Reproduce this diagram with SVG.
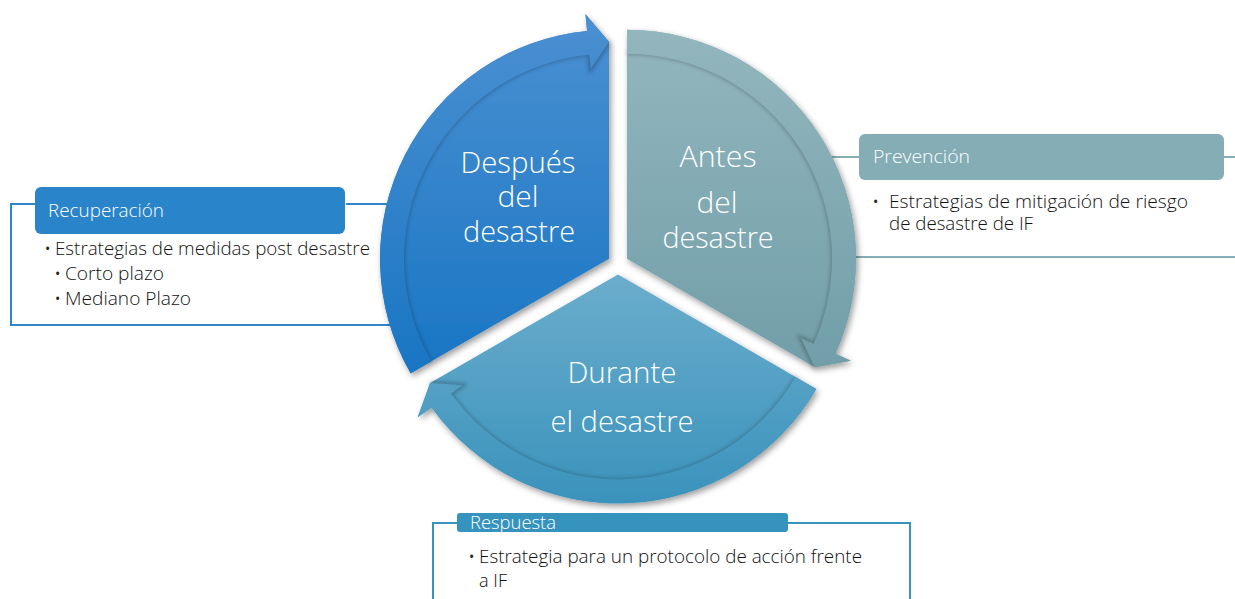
<svg xmlns="http://www.w3.org/2000/svg" width="1235" height="599" viewBox="0 0 1235 599">
<style>
.lbl{font-family:"Open Sans","Liberation Sans",sans-serif;font-weight:300;font-size:30px;fill:#ffffff;text-anchor:middle}
.hdr{font-family:"Open Sans","Liberation Sans",sans-serif;font-weight:300;font-size:18px;fill:#ffffff}
.body{font-family:"Open Sans","Liberation Sans",sans-serif;font-weight:300;font-size:18px;fill:#111111}
.bul{font-family:"Open Sans","Liberation Sans",sans-serif;font-size:14px;fill:#1e1e1e}
.conn{fill:none;stroke-width:2}
.ishadow{fill:none;stroke:#000;stroke-opacity:0.28;stroke-width:4;filter:url(#blur)}
</style>
<defs>
<filter id="drop" x="-20%" y="-20%" width="140%" height="140%">
<feDropShadow dx="2" dy="3" stdDeviation="3" flood-color="#000" flood-opacity="0.4"/>
</filter>
<filter id="blur" x="-10%" y="-10%" width="120%" height="120%">
<feGaussianBlur stdDeviation="2"/>
</filter>
<linearGradient id="gAntes" gradientUnits="userSpaceOnUse" x1="0" y1="30" x2="0" y2="370">
<stop offset="0" stop-color="#93b6bd"/><stop offset="1" stop-color="#719ea9"/>
</linearGradient>
<linearGradient id="gDurante" gradientUnits="userSpaceOnUse" x1="0" y1="275" x2="0" y2="505">
<stop offset="0" stop-color="#6badcc"/><stop offset="1" stop-color="#3a92bc"/>
</linearGradient>
<linearGradient id="gDespues" gradientUnits="userSpaceOnUse" x1="0" y1="15" x2="0" y2="420">
<stop offset="0" stop-color="#4b90d2"/><stop offset="1" stop-color="#1272c1"/>
</linearGradient>
</defs>
<rect width="1235" height="599" fill="#ffffff"/>

<g id="connectors">
<path class="conn" stroke="#2f86c9" d="M395,204 L346,204 M35,204 L11,204 L11,325 L395,325"/>
<path class="conn" stroke="#86aeb7" d="M828,157 L860,157 M1223,157 L1235,157 M850,257 L1235,257"/>
<path class="conn" stroke="#3693bd" d="M458,523 L433,523 L433,599 M787,523 L910,523 L910,599"/>
</g>

<g id="seg-antes">
<path fill="url(#gAntes)" filter="url(#drop)" d="M627,258.8 L627,29.8 A229,229 0 0 1 835.4,353.8 L850.9,360.8 L814.9,367.3 Z"/>
<path class="ishadow" d="M627,52.5 A206.3,206.3 0 0 1 814.7,344.3 L800.8,338 L814.9,367.3"/>
<path fill="url(#gAntes)" d="M627,29.8 A229,229 0 0 1 835.4,353.8 L850.9,360.8 L814.9,367.3 L800.8,338 L813.6,343.8 A205,205 0 0 0 627,53.8 Z"/>
<text class="lbl" x="718" y="167" textLength="77" lengthAdjust="spacingAndGlyphs">Antes</text>
<text class="lbl" x="717" y="213" textLength="41" lengthAdjust="spacingAndGlyphs">del</text>
<text class="lbl" x="718" y="248" textLength="111" lengthAdjust="spacingAndGlyphs">desastre</text>
</g>

<g id="seg-durante">
<path fill="url(#gDurante)" filter="url(#drop)" d="M618,274.4 L816.3,388.9 A229,229 0 0 1 431.6,407.4 L417.7,417.3 L430.1,382.9 Z"/>
<path class="ishadow" d="M796.6,377.5 A206.3,206.3 0 0 1 450,394.2 L462.5,385.3 L430.1,382.9"/>
<path fill="url(#gDurante)" d="M816.3,388.9 A229,229 0 0 1 431.6,407.4 L417.7,417.3 L430.1,382.9 L462.5,385.3 L451.1,393.4 A205,205 0 0 0 795.5,376.9 Z"/>
<text class="lbl" x="622" y="383" textLength="109" lengthAdjust="spacingAndGlyphs">Durante</text>
<text class="lbl" x="622" y="432" textLength="143" lengthAdjust="spacingAndGlyphs">el desastre</text>
</g>

<g id="seg-despues">
<path fill="url(#gDespues)" filter="url(#drop)" d="M609,258.8 L410.7,373.3 A229,229 0 0 1 587.1,30.9 L585.4,13.9 L609,41.8 Z"/>
<path class="ishadow" d="M430.3,362 A206.3,206.3 0 0 1 589.3,53.5 L590.7,68.7 L609,41.8"/>
<path fill="url(#gDespues)" d="M410.7,373.3 A229,229 0 0 1 587.1,30.9 L585.4,13.9 L609,41.8 L590.7,68.7 L589.4,54.7 A205,205 0 0 0 431.5,361.3 Z"/>
<text class="lbl" x="518" y="173" textLength="115" lengthAdjust="spacingAndGlyphs">Después</text>
<text class="lbl" x="518" y="207" textLength="41" lengthAdjust="spacingAndGlyphs">del</text>
<text class="lbl" x="519" y="242" textLength="112" lengthAdjust="spacingAndGlyphs">desastre</text>
</g>

<g id="box-recuperacion">
<rect x="35" y="187" width="310" height="47" rx="6" fill="#2a84c9"/>
<text class="hdr" x="48" y="217" textLength="116" lengthAdjust="spacingAndGlyphs">Recuperación</text>
<text class="bul" x="45" y="254">•</text>
<text class="body" x="55" y="255" textLength="315" lengthAdjust="spacingAndGlyphs">Estrategias de medidas post desastre</text>
<text class="bul" x="55" y="279">•</text>
<text class="body" x="65" y="280" textLength="99" lengthAdjust="spacingAndGlyphs">Corto plazo</text>
<text class="bul" x="55" y="304">•</text>
<text class="body" x="65" y="305" textLength="126" lengthAdjust="spacingAndGlyphs">Mediano Plazo</text>
</g>

<g id="box-prevencion">
<rect x="859" y="134" width="365" height="46" rx="6" fill="#84adb6"/>
<text class="hdr" x="873" y="163" textLength="97" lengthAdjust="spacingAndGlyphs">Prevención</text>
<text class="bul" x="873" y="207">•</text>
<text class="body" x="889" y="208" textLength="299" lengthAdjust="spacingAndGlyphs">Estrategias de mitigación de riesgo</text>
<text class="body" x="889" y="230" textLength="144" lengthAdjust="spacingAndGlyphs">de desastre de IF</text>
</g>

<g id="box-respuesta">
<rect x="457" y="513" width="331" height="19" rx="3" fill="#3693bd"/>
<text class="hdr" x="470" y="529" textLength="86" lengthAdjust="spacingAndGlyphs">Respuesta</text>
<text class="bul" x="469" y="562">•</text>
<text class="body" x="479" y="563" textLength="383" lengthAdjust="spacingAndGlyphs">Estrategia para un protocolo de acción frente</text>
<text class="body" x="479" y="587" textLength="28" lengthAdjust="spacingAndGlyphs">a IF</text>
</g>
</svg>
